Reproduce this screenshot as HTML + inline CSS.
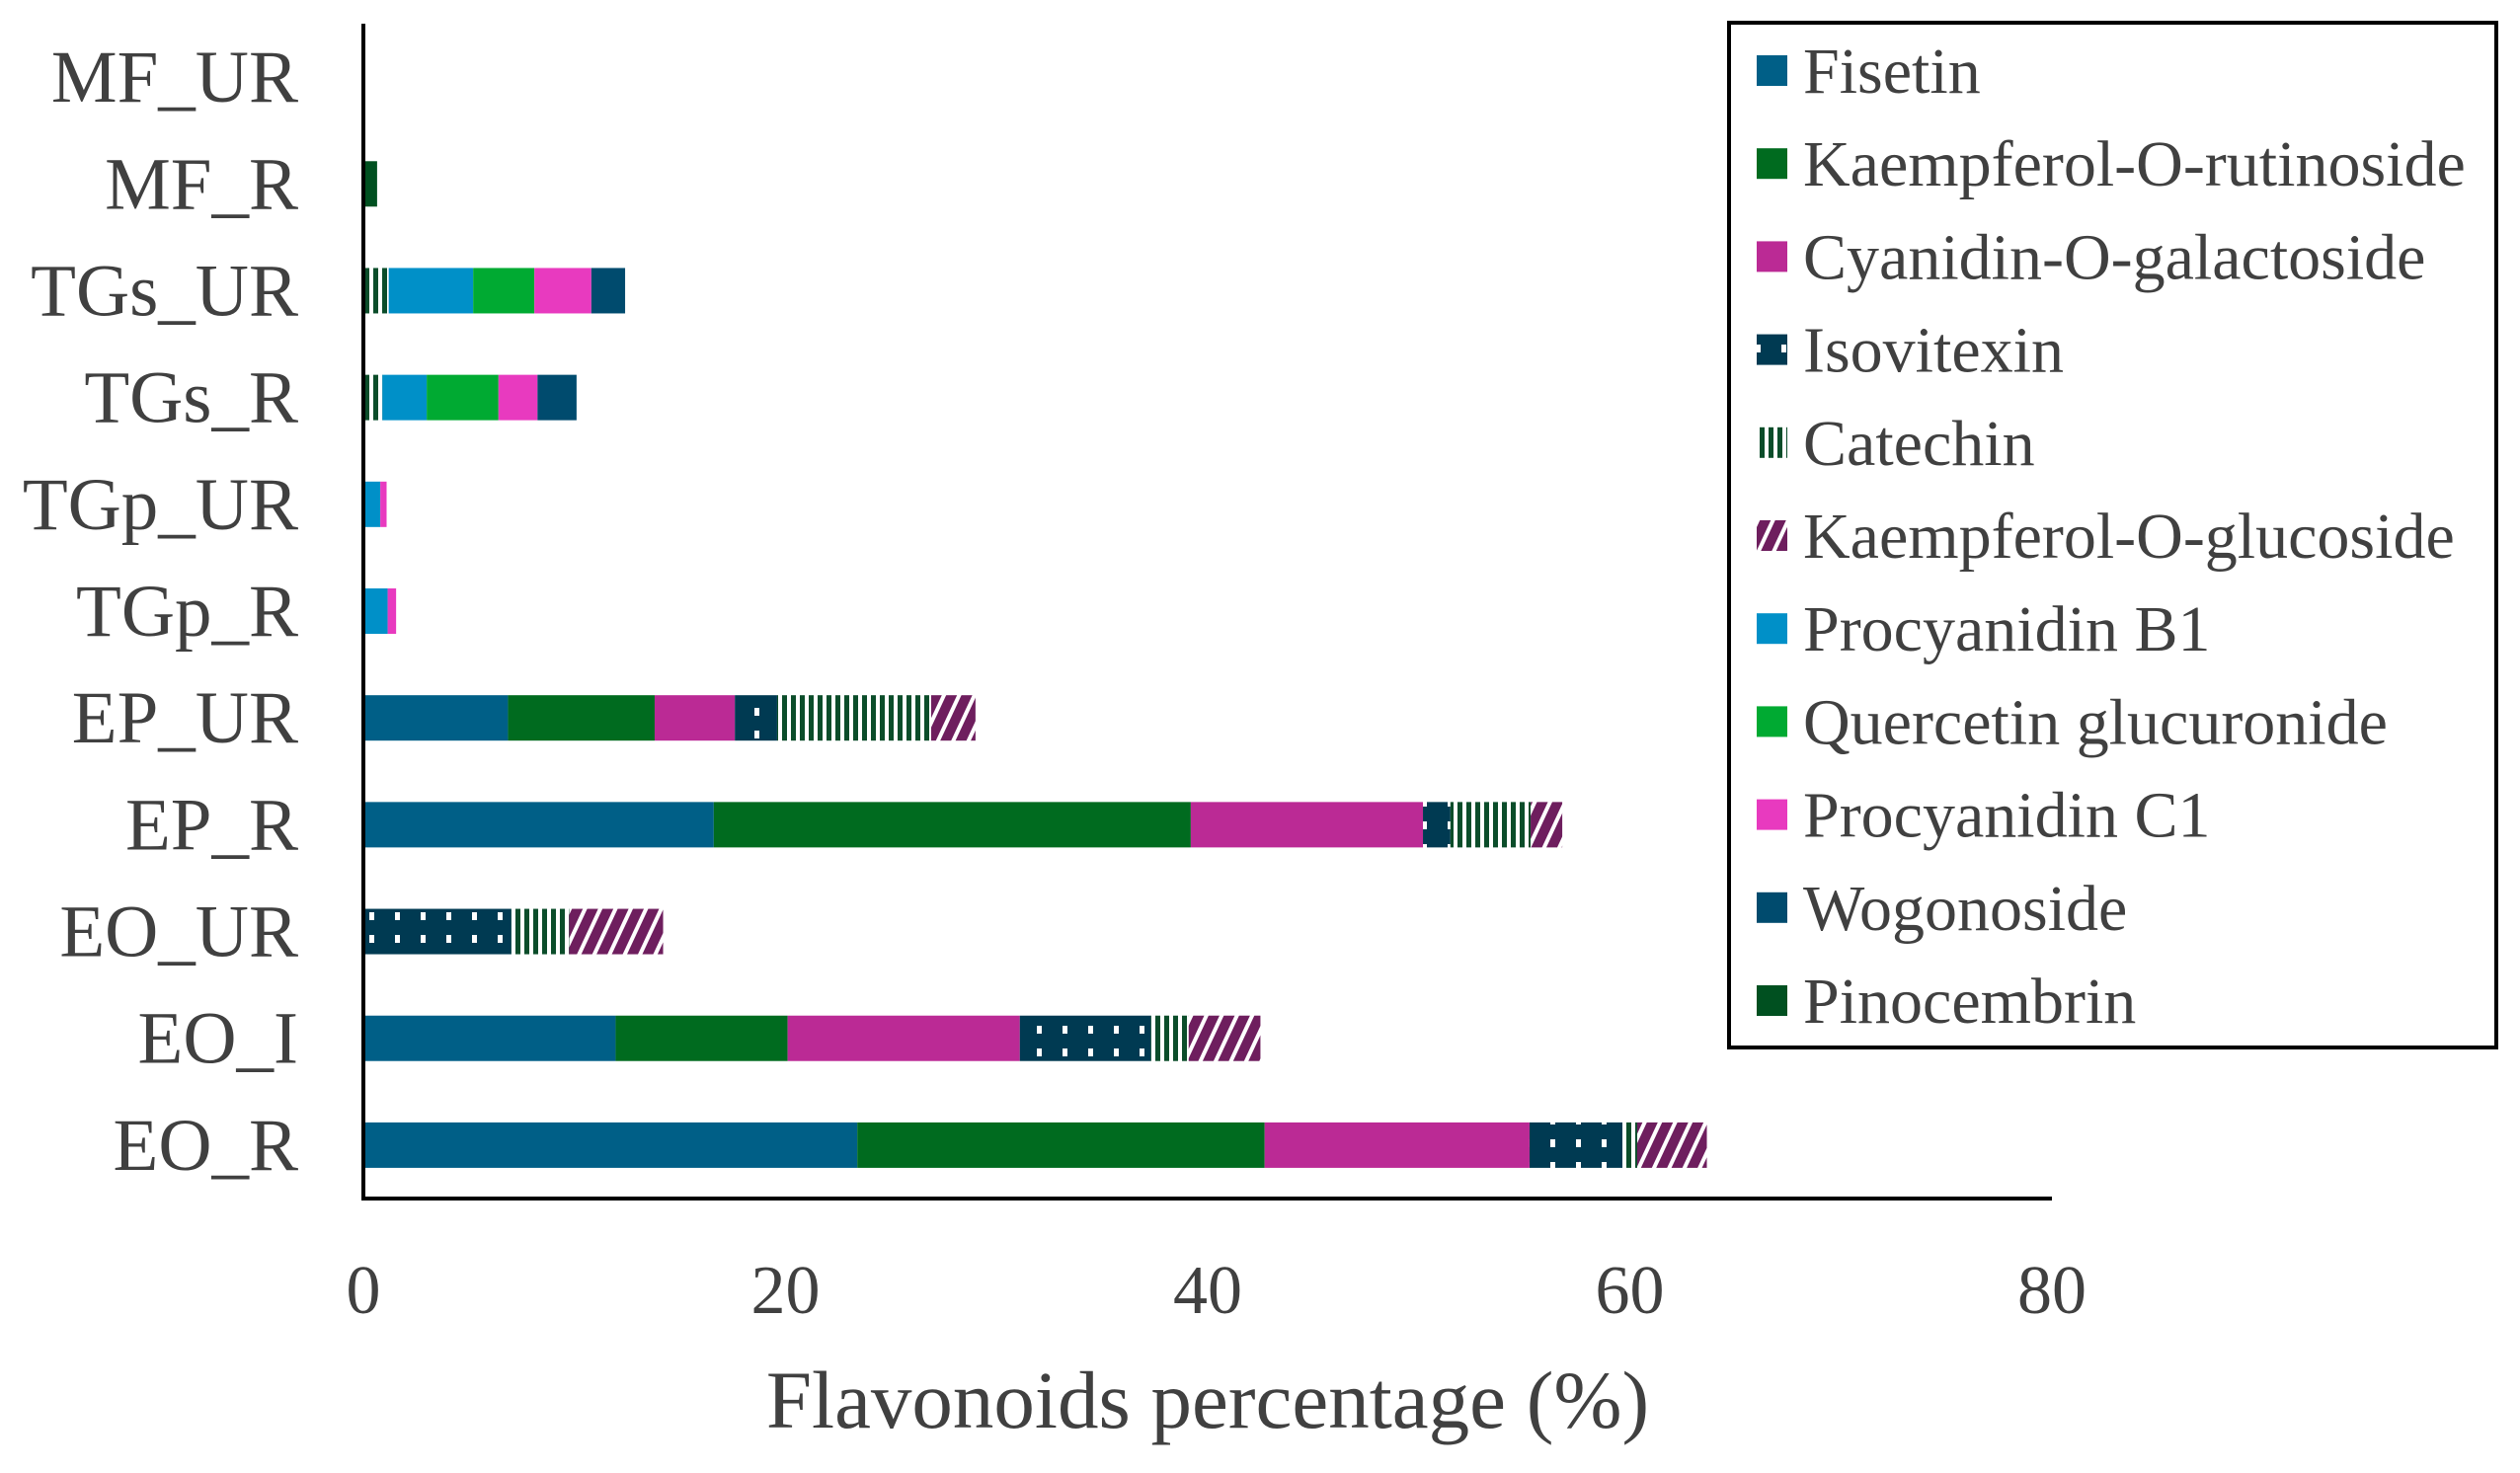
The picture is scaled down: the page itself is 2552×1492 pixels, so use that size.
<!DOCTYPE html>
<html><head><meta charset="utf-8"><style>
html,body{margin:0;padding:0;background:#fff;}
svg{display:block;font-family:"Liberation Serif",serif;}
</style></head><body>
<svg id="chart" width="2552" height="1492" viewBox="0 0 2552 1492">
<defs>
<pattern id="pDots" width="26" height="23" patternUnits="userSpaceOnUse"><rect width="26" height="23" fill="#003A52"/><rect x="10" y="4" width="5" height="8" fill="#fff"/></pattern>
<pattern id="pVert" width="9" height="10" patternUnits="userSpaceOnUse"><rect width="9" height="10" fill="#fff"/><rect x="0" width="5" height="10" fill="#0B4D2A"/></pattern>
<pattern id="pDiag" width="14" height="14" patternUnits="userSpaceOnUse" patternTransform="rotate(25)"><rect width="14" height="14" fill="#6E1E5E"/><rect x="0" width="4" height="14" fill="#fff"/></pattern>
</defs>
<g id="bars"></g>
<g id="axes"></g>
<g id="legend"></g>
</svg>
<script>
const categories = ["MF_UR","MF_R","TGs_UR","TGs_R","TGp_UR","TGp_R","EP_UR","EP_R","EO_UR","EO_I","EO_R"];
const seriesNames = ["Fisetin","Kaempferol-O-rutinoside","Cyanidin-O-galactoside","Isovitexin","Catechin","Kaempferol-O-glucoside","Procyanidin B1","Quercetin glucuronide","Procyanidin C1","Wogonoside","Pinocembrin"];
const fisetin      = [0,0,0,0,0,0,6.85,16.6,0,11.95,23.4];
const kaempRut     = [0,0,0,0,0,0,6.95,22.6,0,8.15,19.3];
const cyanidin     = [0,0,0,0,0,0,3.8,11.0,0,11.0,12.55];
const isovitexin   = [0,0,0,0,0,0,2.0,1.3,7.0,6.2,4.4];
const catechin     = [0,0,1.2,0.9,0,0,7.3,3.8,2.75,1.8,0.7];
const kaempGlu     = [0,0,0,0,0,0,2.1,1.5,4.45,3.4,3.3];
const procyB1      = [0,0,4.0,2.1,0.8,1.15,0,0,0,0,0];
const quercetin    = [0,0,2.9,3.4,0,0,0,0,0,0,0];
const procyC1      = [0,0,2.7,1.85,0.3,0.4,0,0,0,0,0];
const wogonoside   = [0,0,1.6,1.85,0,0,0,0,0,0,0];
const pinocembrin  = [0,0.65,0,0,0,0,0,0,0,0,0];
const xTicks = [0,20,40,60,80];

const series=[fisetin,kaempRut,cyanidin,isovitexin,catechin,kaempGlu,procyB1,quercetin,procyC1,wogonoside,pinocembrin];
const fills=["#005F87","#006B1F","#BB2A95","url(#pDots)","url(#pVert)","url(#pDiag)","#0090C8","#00AA32","#E83ABF","#004B6E","#005020"];
const NS="http://www.w3.org/2000/svg";
const X0=368,X1=2078,YT=24,YB=1214;
const xs=v=>X0+(v/80)*(X1-X0);
const band=(YB-YT)/categories.length;
const yc=i=>YT+band*(i+0.5);
const barH=46;
function mk(tag,attrs,parent){const e=document.createElementNS(NS,tag);for(const k in attrs)e.setAttribute(k,attrs[k]);parent.appendChild(e);return e;}
const gB=document.getElementById('bars'),gA=document.getElementById('axes'),gL=document.getElementById('legend');
categories.forEach((c,i)=>{
  let acc=0;
  series.forEach((s,j)=>{
    const v=s[i]; if(v<=0) return;
    const r=mk('rect',{x:xs(acc),y:yc(i)-barH/2,width:xs(acc+v)-xs(acc),height:barH,fill:fills[j]},gB);
    
    
    acc+=v;
  });
  const t=mk('text',{x:302,y:yc(i)+25,'text-anchor':'end','font-size':75,fill:'#404040'},gA);
  t.textContent=c;
  
  
});
const ya=mk('line',{x1:X0,y1:YT,x2:X0,y2:YB+2,stroke:'#000','stroke-width':4},gA);


const xa=mk('line',{x1:X0-2,y1:YB,x2:X1,y2:YB,stroke:'#000','stroke-width':4},gA);


xTicks.forEach(v=>{
  const t=mk('text',{x:xs(v),y:1330,'text-anchor':'middle','font-size':70,fill:'#404040'},gA);
  t.textContent=v;
  
  
});
const xt=mk('text',{x:1223,y:1446,'text-anchor':'middle','font-size':83,fill:'#404040'},gA);
xt.textContent="Flavonoids percentage (%)";


const box=mk('rect',{x:1751,y:23,width:777,height:1038,fill:'#fff',stroke:'#000','stroke-width':4},gL);


seriesNames.forEach((n,j)=>{
  const y=72+j*94.2;
  const sw=mk('rect',{x:1779,y:y-16,width:31,height:31,fill:fills[j]},gL);
  
  
  const t=mk('text',{x:1826,y:y+22,'font-size':66,fill:'#404040'},gL);
  t.textContent=n;
  
  
});
</script>
</body></html>
